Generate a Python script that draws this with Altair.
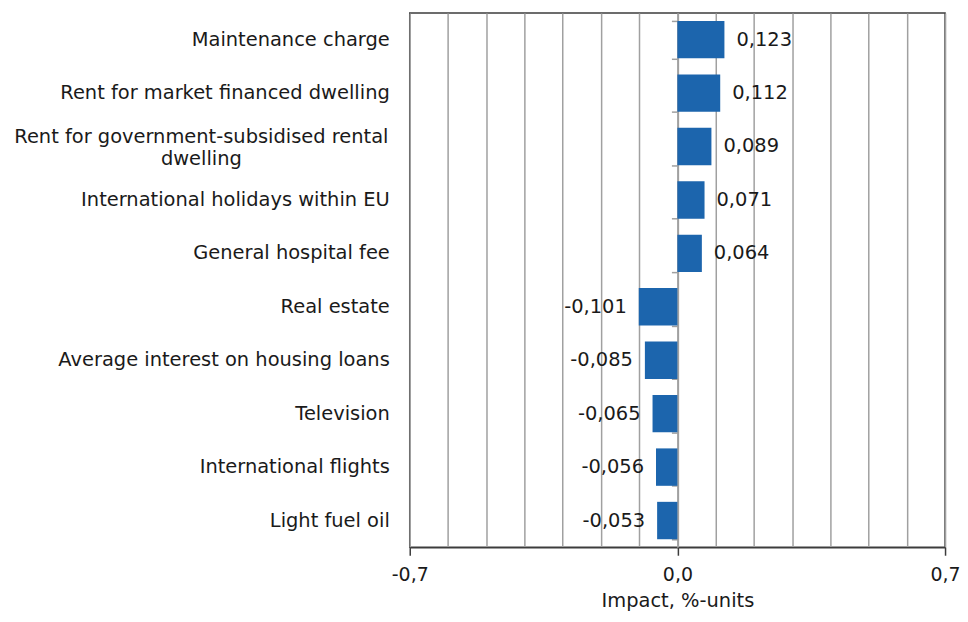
import altair as alt
import pandas as pd

categories = [
    "Maintenance charge",
    "Rent for market financed dwelling",
    "Rent for government-subsidised rental|dwelling",
    "International holidays within EU",
    "General hospital fee",
    "Real estate",
    "Average interest on housing loans",
    "Television",
    "International flights",
    "Light fuel oil",
]
values = [0.123, 0.112, 0.089, 0.071, 0.064, -0.101, -0.085, -0.065, -0.056, -0.053]
grid_values = [-0.7, -0.6, -0.5, -0.4, -0.3, -0.2, -0.1, 0.0, 0.1, 0.2, 0.3, 0.4, 0.5, 0.6, 0.7]
x_domain = [-0.7, 0.7]
x_title = "Impact, %-units"

df = pd.DataFrame({"category": categories, "value": values})

FONT = "DejaVu Sans"
FS = 19.5
TXT = "#1a1a1a"
GRID = "#a0a0a0"
BORDER = "#3c3c3c"

xscale = alt.Scale(domain=x_domain, nice=False, zero=False)
yscale = alt.Scale(paddingInner=0.3, paddingOuter=0.15)
ysort = categories

x_axis = alt.Axis(
    values=grid_values,
    grid=True,
    gridColor=GRID,
    gridWidth=1.5,
    domainColor=BORDER,
    domainWidth=1.5,
    tickColor=BORDER,
    tickWidth=1.5,
    tickSize=8,
    tickOpacity={
        "condition": {"test": "abs(datum.value) < 0.01 || abs(datum.value) > 0.69", "value": 1},
        "value": 0,
    },
    labelExpr="abs(datum.value) < 0.01 || abs(datum.value) > 0.69 ? replace(replace(format(datum.value, '.1f'), '.', ','), '\u2212', '-') : ''",
    labelFont=FONT,
    labelFontSize=19,
    labelColor=TXT,
    labelPadding=10,
    labelFlush=False,
    labelOverlap=False,
    title=x_title,
    titleFont=FONT,
    titleFontSize=FS,
    titleFontWeight="normal",
    titleColor=TXT,
    titlePadding=7,
)

y_axis = alt.Axis(
    labels=False,
    title=None,
    grid=False,
    domainColor=GRID,
    domainWidth=1.5,
    tickColor=GRID,
    tickWidth=1.5,
    tickSize=6,
    tickBand="extent",
    offset=-268.5,
)

X = alt.X("value:Q", scale=xscale, axis=x_axis)
Y = alt.Y("category:N", sort=ysort, scale=yscale, axis=y_axis)

base = alt.Chart(df)

bars = base.mark_bar(color="#1c65ad").encode(x=X, y=Y)

labelled = base.transform_calculate(
    lab="replace(replace(format(datum.value, '.3f'), '.', ','), '\u2212', '-')"
)

pos_text = labelled.transform_filter("datum.value >= 0").mark_text(
    align="left", baseline="middle", dx=12, font=FONT, fontSize=FS, color=TXT
).encode(x=X, y=Y, text="lab:N")

neg_text = labelled.transform_filter("datum.value < 0").mark_text(
    align="right", baseline="middle", dx=-12, font=FONT, fontSize=FS, color=TXT
).encode(x=X, y=Y, text="lab:N")

cat_base = base.transform_calculate(lines="split(datum.category, '|')")

cat_single = cat_base.transform_filter("length(datum.lines) == 1").mark_text(
    align="right", baseline="middle", font=FONT, fontSize=FS, color=TXT
).encode(x=alt.value(-20), y=Y, text="lines:N")

cat_multi = cat_base.transform_filter("length(datum.lines) > 1").mark_text(
    align="center", baseline="middle", font=FONT, fontSize=FS, color=TXT,
    lineHeight=23, dy=-10
).encode(x=alt.value(-209), y=Y, text="lines:N")

chart = (
    alt.layer(bars, pos_text, neg_text, cat_single, cat_multi)
    .properties(
        width=537,
        height=536,
        autosize=alt.AutoSizeParams(type="none"),
        padding={"left": 403, "top": 4, "right": 15, "bottom": 64},
        background="white",
    )
    .configure_view(stroke=BORDER, strokeWidth=1.5)
)

chart.save("out.html", embed_options={"renderer": "svg", "actions": False})
